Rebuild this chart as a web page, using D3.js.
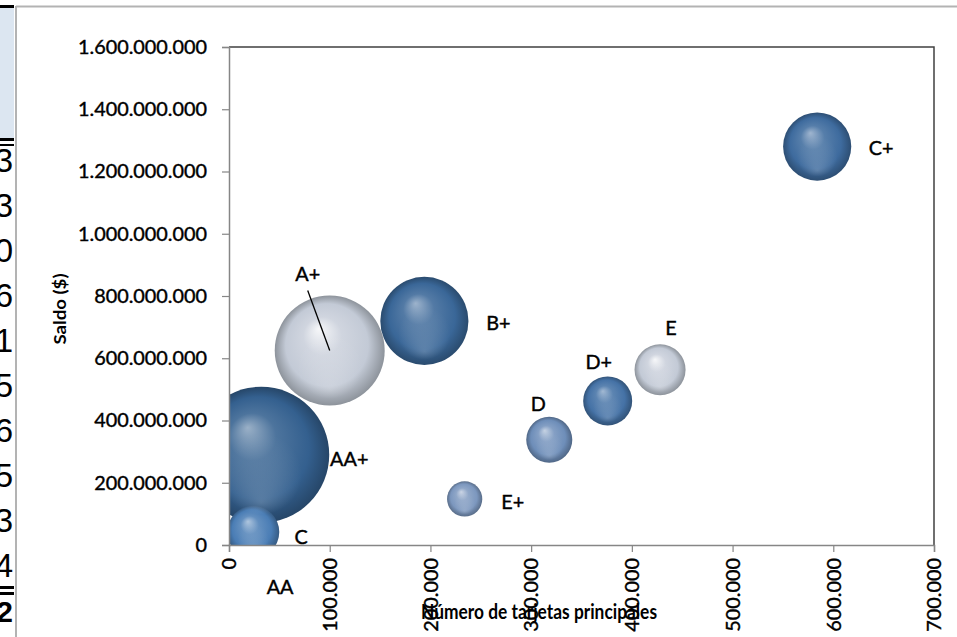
<!DOCTYPE html>
<html>
<head>
<meta charset="utf-8">
<script src="https://cdn.jsdelivr.net/npm/d3@7"></script>
<style>
html,body{margin:0;padding:0;background:#fff;overflow:hidden;}
svg{display:block;}
text{font-family:Lato,"Open Sans",sans-serif;fill:#000;}
.thick{stroke:#000;stroke-width:0.4px;}
</style>
</head>
<body>
<svg id="chart" width="957" height="637"></svg>
<script>
// ---------- data ----------
const categories = ["A+", "AA+", "C", "AA", "B+", "E+", "D", "D+", "E", "C+"];
const tarjetas   = [100000, 32000, 24000, 10000, 194000, 234000, 318000, 376000, 428000, 584000];
const saldo      = [625000000, 290000000, 42000000, -135000000, 720000000, 148000000, 338000000, 463000000, 563000000, 1280000000];
const bubbleSize = [30.2, 46.2, 6.8, 4.8, 19.4, 3.1, 5.3, 6.0, 6.5, 11.6];
const yTicks = [0, 200000000, 400000000, 600000000, 800000000, 1000000000, 1200000000, 1400000000, 1600000000];
const xTicks = [0, 100000, 200000, 300000, 400000, 500000, 600000, 700000];
const xTitle = "Número de tarjetas principales";
const yTitle = "Saldo ($)";
// left strip (background spreadsheet fragment)
const stripDigits = ["3", "3", "0", "6", "1", "5", "6", "5", "3", "4"];

// ---------- styles ----------
const bubbleColor = ["#c3cad6", "#34608f", "#4a7db5", "#5d86b8", "#3a6798", "#7c97be", "#6e8eb9", "#4572a6", "#c3cad6", "#3e6b9e"];
const highlightMix = [0.85, 0.5, 0.55, 0.55, 0.5, 0.6, 0.6, 0.5, 0.85, 0.5];
const labelDx = [-22, 88, 48, 41, 74, 48, -11, -9, 11, 64];
const labelDy = [-76, 4, 5, 0, 2, 3, -36, -39, -42, 2];

const svg = d3.select("#chart");
const W = 957, H = 637;
const plot = {left: 229, right: 934, top: 47, bottom: 545};

const loc = d3.formatLocale({decimal: ",", thousands: ".", grouping: [3], currency: ["$", ""]});
const fmt = loc.format(",d");

const x = d3.scaleLinear().domain([0, 700000]).range([plot.left, plot.right]);
const y = d3.scaleLinear().domain([0, 1600000000]).range([plot.bottom, plot.top]);
const r = d3.scaleSqrt().domain([0, 46.2]).range([0, 68]);

// condensed text helper (emulates a narrow font)
function condense(sel, k) {
  sel.each(function() {
    const t = d3.select(this);
    t.attr("textLength", null);
    const w = this.getComputedTextLength();
    t.attr("textLength", w * k).attr("lengthAdjust", "spacingAndGlyphs");
  });
}

// ---------- left strip ----------
svg.append("rect").attr("x", 0).attr("y", 7).attr("width", 14).attr("height", 131).attr("fill", "#dce6f1");
svg.append("rect").attr("x", 0).attr("y", 5).attr("width", 14).attr("height", 3).attr("fill", "#000");
svg.append("rect").attr("x", 0).attr("y", 138).attr("width", 14).attr("height", 3).attr("fill", "#000");
svg.append("rect").attr("x", 0).attr("y", 144).attr("width", 14).attr("height", 2).attr("fill", "#000");
svg.append("g").selectAll("text").data(stripDigits).join("text")
  .attr("x", 13).attr("y", (d, i) => 172 + i * 45)
  .attr("text-anchor", "end").attr("font-size", 33)
  .style("font-family", "'Liberation Sans',sans-serif")
  .text(d => d);
svg.append("rect").attr("x", 0).attr("y", 586).attr("width", 14).attr("height", 3).attr("fill", "#000");
svg.append("rect").attr("x", 0).attr("y", 592).attr("width", 14).attr("height", 3).attr("fill", "#000");
svg.append("text").attr("x", 13).attr("y", 622).attr("text-anchor", "end").attr("font-size", 30)
  .style("font-weight", "bold").style("font-family", "'Liberation Sans',sans-serif").text("2");

// chart frame
svg.append("line").attr("x1", 16).attr("x2", W).attr("y1", 6.5).attr("y2", 6.5).attr("stroke", "#b3b3b3").attr("stroke-width", 2);
svg.append("line").attr("x1", 16).attr("x2", 16).attr("y1", 6).attr("y2", H).attr("stroke", "#b3b3b3").attr("stroke-width", 2);

// ---------- gradients ----------
const defs = svg.append("defs");
bubbleColor.forEach((c, i) => {
  const base = d3.color(c);
  const g = defs.append("radialGradient").attr("id", "g" + i)
    .attr("cx", "50%").attr("cy", "50%").attr("r", "50%").attr("fx", "40%").attr("fy", "30%");
  const hi = d3.interpolateRgb(c, "#ffffff")(highlightMix[i]);
  g.append("stop").attr("offset", "0%").attr("stop-color", hi);
  g.append("stop").attr("offset", "35%").attr("stop-color", d3.interpolateRgb(c, "#ffffff")(highlightMix[i] * 0.25));
  g.append("stop").attr("offset", "75%").attr("stop-color", c);
  g.append("stop").attr("offset", "100%").attr("stop-color", base.darker(0.9));
  const s = defs.append("radialGradient").attr("id", "s" + i)
    .attr("cx", "50%").attr("cy", "50%").attr("r", "50%").attr("fx", "50%").attr("fy", "85%");
  s.append("stop").attr("offset", "0%").attr("stop-color", "#fff").attr("stop-opacity", 0.18);
  s.append("stop").attr("offset", "60%").attr("stop-color", "#fff").attr("stop-opacity", 0);
});
defs.append("clipPath").attr("id", "plotclip").append("rect")
  .attr("x", plot.left).attr("y", plot.top).attr("width", plot.right - plot.left).attr("height", plot.bottom - plot.top);

// plot border (top & right)
svg.append("path").attr("d", `M${plot.left},${plot.top}H${plot.right}V${plot.bottom}`)
  .attr("fill", "none").attr("stroke", "#404040").attr("stroke-width", 1.5);

// ---------- bubbles ----------
const data = categories.map((c, i) => ({c, x: tarjetas[i], y: saldo[i], s: bubbleSize[i], i}));
const gb = svg.append("g").attr("clip-path", "url(#plotclip)");
gb.selectAll("circle.b").data(data).join("circle").attr("class", "b")
  .attr("cx", d => x(d.x)).attr("cy", d => y(d.y)).attr("r", d => r(d.s))
  .attr("fill", d => `url(#g${d.i})`);
gb.selectAll("circle.sh").data(data).join("circle").attr("class", "sh")
  .attr("cx", d => x(d.x)).attr("cy", d => y(d.y)).attr("r", d => r(d.s))
  .attr("fill", d => `url(#s${d.i})`);

// ---------- axes ----------
const FS = 19.5;
const yAxis = d3.axisLeft(y).tickValues(yTicks).tickFormat(fmt).tickSize(7).tickPadding(15);
const gy = svg.append("g").attr("transform", `translate(${plot.left},0)`).call(yAxis);
gy.select(".domain").attr("stroke", "#868686").attr("stroke-width", 1.5);
gy.selectAll(".tick line").attr("stroke", "#868686").attr("stroke-width", 1.2);
gy.selectAll(".tick text").attr("font-size", FS).style("font-family", "Lato,sans-serif").attr("fill", "#000").classed("thick", true);

const xAxis = d3.axisBottom(x).tickValues(xTicks).tickFormat(fmt).tickSize(7);
const gx = svg.append("g").attr("transform", `translate(0,${plot.bottom})`).call(xAxis);
gx.select(".domain").attr("stroke", "#868686").attr("stroke-width", 1.5);
gx.selectAll(".tick line").attr("stroke", "#868686").attr("stroke-width", 1.2);
gx.selectAll(".tick text").attr("font-size", FS).style("font-family", "Lato,sans-serif").attr("fill", "#000").classed("thick", true)
  .attr("transform", "rotate(-90)").attr("text-anchor", "end").attr("x", -13).attr("y", 0).attr("dy", "0.35em");

// condense factor so that the widest tick label matches the reference width
const longest = gy.selectAll(".tick text").filter(d => d === 1600000000).node();
const K = 129 / longest.getComputedTextLength();
condense(gy.selectAll(".tick text"), K);
condense(gx.selectAll(".tick text"), K);

// ---------- titles ----------
const yt = svg.append("text").attr("transform", "translate(66,309) rotate(-90)")
  .attr("text-anchor", "middle").style("font-weight", "bold").attr("font-size", 17.5).text(yTitle);
yt.attr("textLength", 71).attr("lengthAdjust", "spacingAndGlyphs");
const xt = svg.append("text").attr("x", 539).attr("y", 619)
  .attr("text-anchor", "middle").style("font-weight", "bold").attr("font-size", 20).text(xTitle);
xt.attr("textLength", 236).attr("lengthAdjust", "spacingAndGlyphs");

// ---------- labels ----------
const ap = data.find(d => d.c === "A+");
svg.append("line")
  .attr("x1", x(ap.x) + labelDx[ap.i] + 0).attr("y1", y(ap.y) + labelDy[ap.i] + 16)
  .attr("x2", x(ap.x)).attr("y2", y(ap.y))
  .attr("stroke", "#000").attr("stroke-width", 1.3);
const lbl = svg.append("g").selectAll("text").data(data).join("text")
  .attr("x", d => x(d.x) + labelDx[d.i]).attr("y", d => y(d.y) + labelDy[d.i])
  .attr("text-anchor", "middle").attr("dy", "0.35em").attr("font-size", FS).classed("thick", true)
  .text(d => d.c);
condense(lbl, K);
</script>
</body>
</html>
